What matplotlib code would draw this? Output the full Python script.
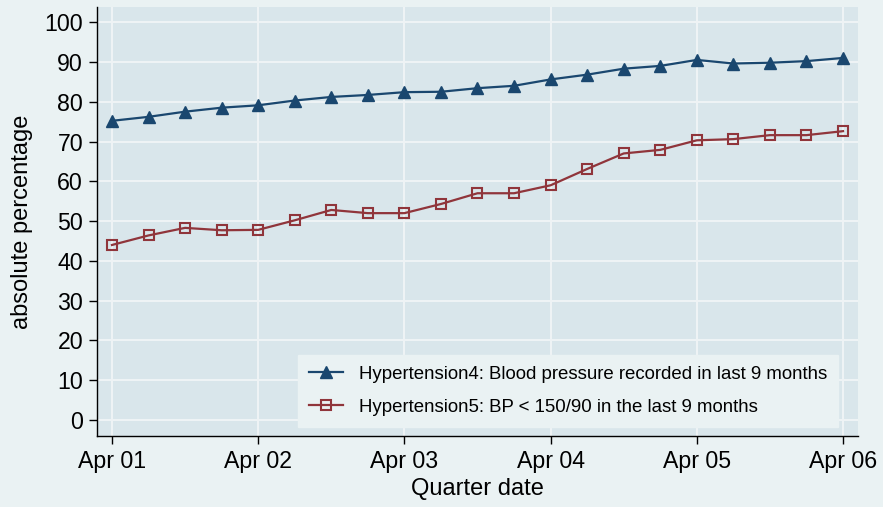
import numpy as np
import matplotlib
matplotlib.use('Agg')
import matplotlib.pyplot as plt

# quarterly values, Apr 01 .. Apr 06
quarters = np.arange(21)
hyp4 = [75.2, 76.2, 77.5, 78.5, 79.1, 80.3, 81.2, 81.7, 82.4, 82.5, 83.4,
        84.0, 85.6, 86.8, 88.3, 89.0, 90.5, 89.6, 89.8, 90.2, 91.0]
hyp5 = [44.0, 46.4, 48.3, 47.7, 47.8, 50.2, 52.8, 52.0, 52.0, 54.3, 57.0,
        57.0, 59.0, 63.1, 67.0, 67.9, 70.3, 70.6, 71.6, 71.6, 72.6]
year_ticks = [0, 4, 8, 12, 16, 20]
year_labels = ['Apr 01', 'Apr 02', 'Apr 03', 'Apr 04', 'Apr 05', 'Apr 06']
label4 = 'Hypertension4: Blood pressure recorded in last 9 months'
label5 = 'Hypertension5: BP < 150/90 in the last 9 months'

plt.rcParams['font.family'] = ['Liberation Sans', 'DejaVu Sans']

fig = plt.figure(figsize=(8.83, 5.07), dpi=100, facecolor='#eaf2f3')
ax = fig.add_axes([97 / 883, 71 / 507, 761 / 883, 429 / 507])
ax.set_facecolor('#d9e6eb')

ax.plot(quarters, hyp4, color='#1a476f', lw=1.6, marker='^', ms=8,
        label=label4, zorder=3)
ax.plot(quarters, hyp5, color='#90353b', lw=1.6, marker='s', ms=7,
        fillstyle='none', mew=1.5, label=label5, zorder=3)

ax.set_xlim(-0.41, 20.41)
ax.set_ylim(-4, 103.8)
ax.set_yticks(np.arange(0, 101, 10))
ax.set_xticks(year_ticks)
ax.set_xticklabels(year_labels)
ax.tick_params(labelsize=16.7, length=6, width=1, color='black', pad=4)
ax.grid(True, color='#eef3f5', lw=1.5)
ax.set_axisbelow(True)

### axis frame ###
for s in ['top', 'right']:
    ax.spines[s].set_visible(False)
ax.spines['left'].set_linewidth(1)
ax.spines['bottom'].set_linewidth(1)

ax.set_ylabel('absolute percentage', fontsize=17, labelpad=8)
ax.set_xlabel('Quarter date', fontsize=17, labelpad=4)

leg = ax.legend(loc='lower right', bbox_to_anchor=(0.974, 0.021),
                borderaxespad=0, fontsize=13.4, frameon=True, fancybox=False,
                facecolor='#eaf2f3', edgecolor='#eaf2f3', framealpha=1,
                handlelength=1.8, handletextpad=0.85, borderpad=0.6,
                labelspacing=0.85)

fig.savefig('out.png', dpi=100, facecolor=fig.get_facecolor())
